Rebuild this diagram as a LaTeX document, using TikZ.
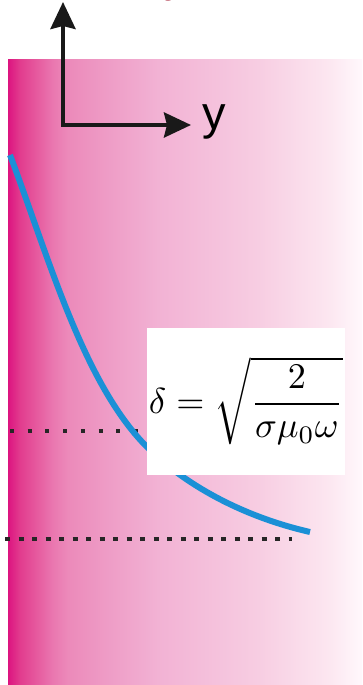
\documentclass[tikz,border=0pt]{standalone}
\usepackage{amsmath}
\usepackage{graphicx}
\usepackage{fontspec}
\setsansfont{Liberation Sans}
\usepackage{tikz}
\usetikzlibrary{arrows.meta,positioning,calc}
\definecolor{skinpink}{RGB}{220,20,128}
\definecolor{curveblue}{RGB}{27,144,214}
\definecolor{titlered}{RGB}{160,20,42}
\pgfdeclarehorizontalshading{skinfade}{100bp}{%
  color(0bp)=(skinpink); color(25bp)=(skinpink);
  color(26.7bp)=(rgb,255:red,226;green,60;blue,142);
  color(31.4bp)=(rgb,255:red,234;green,120;blue,176);
  color(33.5bp)=(rgb,255:red,236;green,138;blue,186);
  color(39bp)=(rgb,255:red,238;green,156;blue,198);
  color(46.2bp)=(rgb,255:red,242;green,178;blue,212);
  color(60.3bp)=(rgb,255:red,247;green,205;blue,226);
  color(70.2bp)=(rgb,255:red,252;green,230;blue,240);
  color(75bp)=(rgb,255:red,255;green,248;blue,252);
  color(100bp)=(rgb,255:red,255;green,248;blue,252)}
\newcommand{\skindepth}{\resizebox{194pt}{!}{$\displaystyle\delta=\sqrt{\frac{2}{\sigma\mu_0\omega}}$}}

\begin{document}
\begin{tikzpicture}[
  x=1pt, y=-1pt,
  axis/.style={line width=4pt, black!90, -{Stealth[length=27pt, width=25pt, inset=3pt]}},
  level/.style={line width=3.5pt, black!85},
  decay/.style={line width=6pt, curveblue},
  formula/.style={fill=white, inner sep=0pt, minimum width=198pt, minimum height=147pt}]
\useasboundingbox (0,0) rectangle (362,685);
% conductor
\shade[shading=skinfade] (8,60) rectangle (362,685);
\node[text=titlered, font=\sffamily\fontsize{46}{50}\selectfont, anchor=base] (ttl) at (176,-8) {y};
% depth levels
\coordinate (d1a) at (10,431);
\coordinate (d1b) at (142,431);
\coordinate (d2a) at (5,539);
\coordinate (d2b) at (292,539);
\draw[level, dash pattern=on 4pt off 13.7pt] (d1a) -- (d1b);
\draw[level, dash pattern=on 5pt off 8.5pt] (d2a) -- (d2b);
% field amplitude
\coordinate (top) at (10,155);
\coordinate (mid) at (147,447);
\coordinate (tail) at (310,532);
\draw[decay] (top) .. controls (48,255) and (83,383) .. (mid)
  .. controls (183,483) and (240,516) .. (tail);
\node[formula] (eq) at (246,401) {\skindepth};
% axes
\coordinate (o) at (63,125);
\coordinate (zend) at (63,2);
\coordinate (yend) at (191,125);
\draw[axis] (o) -- (zend);
\draw[axis] ([xshift=-2pt]o) -- (yend);
\node[font=\sffamily\fontsize{47}{50}\selectfont, anchor=base west, inner sep=0pt] (ylab) at (202,129) {y};
\end{tikzpicture}
\end{document}
